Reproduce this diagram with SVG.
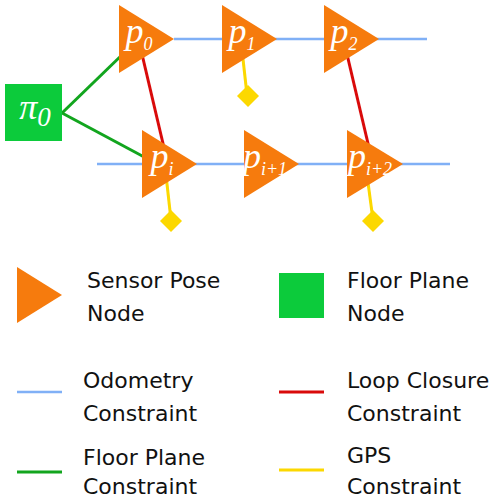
<svg xmlns="http://www.w3.org/2000/svg" width="489" height="500" viewBox="0 0 489 500">
<defs>
<style>
.pose{fill:#f67b0d}
.plane{fill:#0ccb3b}
.odo{stroke:#80b0f6;stroke-width:2.5;fill:none}
.fpc{stroke:#12a51e;stroke-width:3;fill:none}
.loop{stroke:#d90a0a;stroke-width:3;fill:none}
.gps{stroke:#fcd800;stroke-width:3;fill:none}
.gpsd{fill:#fcd800}
.lbl{font-family:"Liberation Serif","Times New Roman",serif;font-style:italic;fill:#ffffff;font-size:36px;text-anchor:middle}
.sub{font-size:18px}
.leg{font-family:"DejaVu Sans",Verdana,sans-serif;font-size:22px;fill:#111111}
</style>
</defs>
<rect width="489" height="500" fill="#ffffff"/>
<g id="connectors">
<line class="odo" x1="174" y1="39" x2="427" y2="39"/>
<line class="odo" x1="97" y1="164" x2="450" y2="164"/>
<line class="fpc" x1="62" y1="113" x2="125" y2="52"/>
<line class="fpc" x1="62" y1="113" x2="146" y2="158"/>
<line class="loop" x1="141" y1="50" x2="165" y2="152"/>
<line class="loop" x1="346" y1="50" x2="370" y2="152"/>
<line class="gps" x1="242" y1="50" x2="247" y2="95"/>
<line class="gps" x1="166" y1="175" x2="171" y2="220"/>
<line class="gps" x1="367" y1="175" x2="373" y2="220"/>
<polygon class="gpsd" points="248,85 259,96 248,107 237,96"/>
<polygon class="gpsd" points="171,210 182,221 171,232 160,221"/>
<polygon class="gpsd" points="373,210 384,221 373,232 362,221"/>
</g>
<g id="pi0">
<rect class="plane" x="5" y="84" width="57" height="57"/>
<text class="lbl" x="35" y="119" font-size="36">π<tspan font-size="27" dy="7">0</tspan></text>
</g>
<g id="p0">
<polygon class="pose" points="119,5 119,73 174,39"/>
<text class="lbl" x="139" y="43">p<tspan class="sub" dy="7">0</tspan></text>
</g>
<g id="p1">
<polygon class="pose" points="222,5 222,73 277,39"/>
<text class="lbl" x="242" y="43">p<tspan class="sub" dy="7">1</tspan></text>
</g>
<g id="p2">
<polygon class="pose" points="324,5 324,73 379,39"/>
<text class="lbl" x="344" y="43">p<tspan class="sub" dy="7">2</tspan></text>
</g>
<g id="pi">
<polygon class="pose" points="142,130 142,198 197,164"/>
<text class="lbl" x="162" y="168">p<tspan class="sub" dy="7">i</tspan></text>
</g>
<g id="pi1">
<polygon class="pose" points="244,130 244,198 299,164"/>
<text class="lbl" x="265" y="168">p<tspan class="sub" dy="7">i+1</tspan></text>
</g>
<g id="pi2">
<polygon class="pose" points="347,130 347,198 403,164"/>
<text class="lbl" x="370" y="168">p<tspan class="sub" dy="7">i+2</tspan></text>
</g>
<g id="legend">
<polygon class="pose" points="17,267 17,323 62,295"/>
<text class="leg" x="87" y="288">Sensor Pose</text>
<text class="leg" x="87" y="321">Node</text>
<rect class="plane" x="279" y="273" width="45" height="45"/>
<text class="leg" x="347" y="288">Floor Plane</text>
<text class="leg" x="347" y="321">Node</text>
<line class="odo" x1="17" y1="392" x2="62" y2="392"/>
<text class="leg" x="83" y="388">Odometry</text>
<text class="leg" x="83" y="421">Constraint</text>
<line class="loop" x1="279" y1="392" x2="324" y2="392"/>
<text class="leg" x="347" y="388">Loop Closure</text>
<text class="leg" x="347" y="421">Constraint</text>
<line class="fpc" x1="17" y1="472" x2="62" y2="472"/>
<text class="leg" x="83" y="465">Floor Plane</text>
<text class="leg" x="83" y="494">Constraint</text>
<line class="gps" x1="279" y1="470" x2="324" y2="470"/>
<text class="leg" x="347" y="463">GPS</text>
<text class="leg" x="347" y="494">Constraint</text>
</g>
</svg>
